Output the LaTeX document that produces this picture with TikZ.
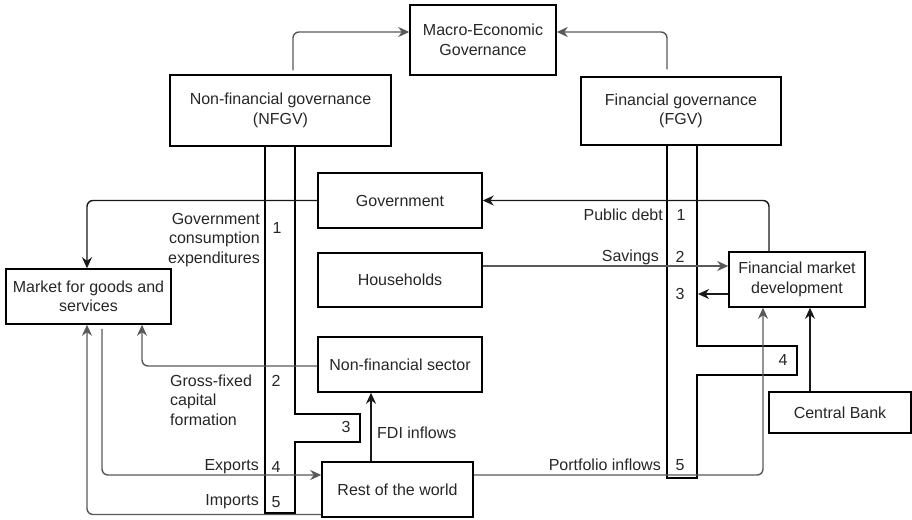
\documentclass[tikz,border=0pt]{standalone}
\usepackage{fontspec}
\setmainfont{Liberation Sans}
\usetikzlibrary{arrows.meta}
\begin{document}
\begin{tikzpicture}[x=1pt,y=-1pt,
  font=\fontsize{16}{19.5}\selectfont,
  box/.style={draw=black,line width=1.5pt,rectangle,inner sep=0pt,align=center,text=black!85},
  lbl/.style={inner sep=0pt,text=black!85,align=left},
  bracket/.style={draw=black,line width=1.5pt,line join=miter},
  conn/.style={draw=black!90,line width=1.4pt,-{Stealth[length=11pt,width=10pt,inset=3.5pt]},rounded corners=6pt},
  connl/.style={conn,draw=black!65}]
\useasboundingbox (0,0) rectangle (912,519);
% boxes
\node[box,minimum width=146pt,minimum height=70pt] (macro) at (483,40) {Macro-Economic\\Governance};
\node[box,minimum width=221pt,minimum height=71pt] (nfgv) at (280.5,110.5) {Non-financial governance\\(NFGV)};
\node[box,minimum width=200pt,minimum height=68pt] (fgv) at (681,111) {Financial governance\\(FGV)};
\node[box,minimum width=164pt,minimum height=55pt] (gov) at (400,200.5) {Government};
\node[box,minimum width=164pt,minimum height=54pt] (hh) at (400,280) {Households};
\node[box,minimum width=164pt,minimum height=55pt] (nfs) at (400,364.5) {Non-financial sector};
\node[box,minimum width=151pt,minimum height=55pt] (rotw) at (397.5,489.5) {Rest of the world};
\node[box,minimum width=165pt,minimum height=55pt] (market) at (88.5,296.5) {Market for goods and\\services};
\node[box,minimum width=136pt,minimum height=55pt] (fmd) at (797,279.5) {Financial market\\development};
\node[box,minimum width=142pt,minimum height=41pt] (cb) at (840,412.5) {Central Bank};
% brackets
\draw[bracket] (265,146) -- (265,513) -- (295,513) -- (295,442) -- (360,442) -- (360,414) -- (295,414) -- (295,146);
\draw[bracket] (667,145) -- (667,478) -- (697,478) -- (697,375) -- (797,375) -- (797,346) -- (697,346) -- (697,145);
% connectors
\coordinate (f3) at (698,294);
\draw[connl] ([xshift=12.5pt,yshift=4pt]nfgv.north) |- ([yshift=8pt]macro.west);
\draw[connl] ([xshift=-14pt,yshift=7pt]fgv.north) |- ([yshift=8pt]macro.east);
\draw[conn] (gov.west) -| ([xshift=-1.5pt]market.north);
\draw[conn] ([xshift=-28pt]fmd.north) |- (gov.east);
\draw[connl] ([yshift=14pt]hh.east) -- ([yshift=14pt]hh.east -| fmd.west);
\draw[conn] ([yshift=-14.5pt]fmd.west) -- (f3);
\draw[connl] ([yshift=-1.5pt]nfs.west) -| ([xshift=53.5pt]market.south);
\draw[conn] ([xshift=-26.5pt]rotw.north) -- ([xshift=-26.5pt]rotw.north |- nfs.south);
\draw[connl] ([xshift=13.5pt,yshift=-4pt]market.south) |- ([yshift=14.5pt]rotw.west);
\draw[connl] ([yshift=-25pt]rotw.west) -| ([xshift=-1.5pt]market.south);
\draw[connl] ([yshift=14.5pt]rotw.east) -| ([xshift=-34pt]fmd.south);
\draw[conn] ([xshift=-30pt]cb.north) -- ([xshift=-30pt]cb.north |- fmd.south);
% labels
\node[lbl,anchor=east,align=right] (l1) at (260,240) {Government\\consumption\\expenditures};
\node[lbl] (n1) at (277,228) {1};
\node[lbl,anchor=west] (l2) at (170,400) {Gross-fixed\\capital\\formation};
\node[lbl] (n2) at (276,381) {2};
\node[lbl] (n3) at (346,427) {3};
\node[lbl,anchor=east] (l4) at (259,467) {Exports};
\node[lbl] (n4) at (276,467) {4};
\node[lbl,anchor=east] (l5) at (259,502) {Imports};
\node[lbl] (n5) at (276,502) {5};
\node[lbl,anchor=west] (lfdi) at (377,433) {FDI inflows};
\node[lbl,anchor=east] (r1) at (663,215) {Public debt};
\node[lbl] (m1) at (681,215) {1};
\node[lbl,anchor=east] (r2) at (659,257) {Savings};
\node[lbl] (m2) at (680,257) {2};
\node[lbl] (m3) at (680,294) {3};
\node[lbl] (m4) at (783,360) {4};
\node[lbl,anchor=east] (r5) at (661,465) {Portfolio inflows};
\node[lbl] (m5) at (680,465) {5};
\end{tikzpicture}
\end{document}
